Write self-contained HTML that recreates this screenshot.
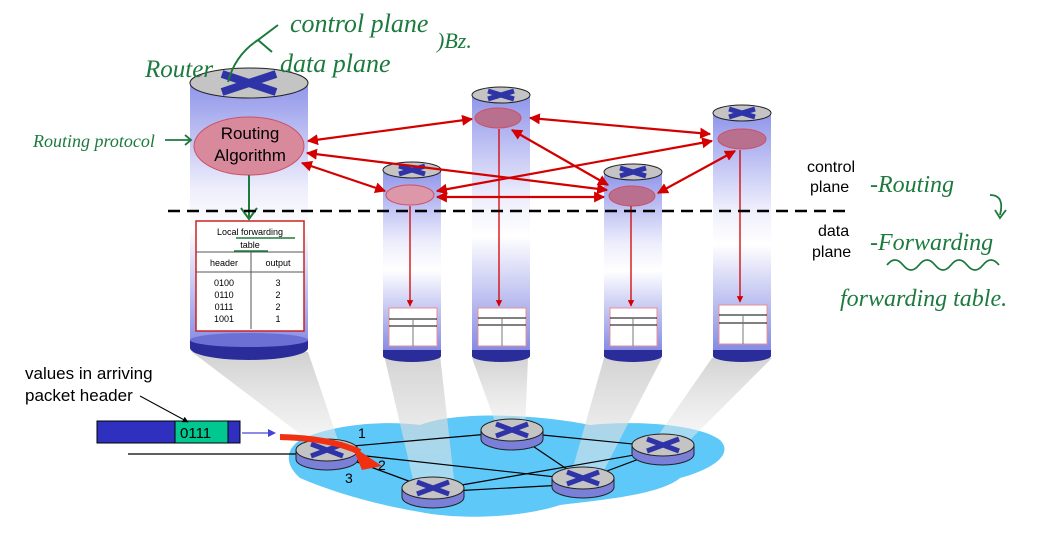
<!DOCTYPE html>
<html><head><meta charset="utf-8"><style>
html,body{margin:0;padding:0;background:#fff;}
svg{display:block;font-family:"Liberation Sans",sans-serif;}
.hw{font-family:"Liberation Serif",serif;font-style:italic;fill:#1d7a3e;}
</style></head><body>
<svg width="1041" height="536" viewBox="0 0 1041 536" xmlns="http://www.w3.org/2000/svg">
<defs>
<linearGradient id="cyl" x1="0" y1="0" x2="0" y2="1">
<stop offset="0" stop-color="#8f95ea"/><stop offset="0.4" stop-color="#eeeefc"/><stop offset="0.55" stop-color="#ffffff"/><stop offset="1" stop-color="#8489e4"/>
</linearGradient>
<linearGradient id="beam" x1="0" y1="0" x2="0" y2="1">
<stop offset="0" stop-color="#c8c8c8"/><stop offset="1" stop-color="#eeeeee" stop-opacity="0.6"/>
</linearGradient>
<marker id="ah" viewBox="0 0 10 10" refX="9" refY="5" markerWidth="5" markerHeight="5" orient="auto-start-reverse"><path d="M0,0 L10,5 L0,10 z" fill="#d40000"/></marker>
<marker id="ak" viewBox="0 0 10 10" refX="9" refY="5" markerWidth="6" markerHeight="6" orient="auto"><path d="M0,0 L10,5 L0,10 z" fill="#000"/></marker>
<g id="rt">
<path d="M-31,0 v9 a31,11 0 0 0 62,0 v-9 z" fill="#7a7fd8" stroke="#222" stroke-width="1"/>
<ellipse cx="0" cy="0" rx="31" ry="11" fill="#c4c4c4" stroke="#222" stroke-width="1"/>
<path d="M-16,-6 L16,6 M-16,6 L16,-6" stroke="#2f33a8" stroke-width="5"/>
</g>
</defs>

<path d="M300,440 C330,425 380,420 420,425 C460,410 540,415 590,425 C640,420 700,425 720,440 C735,455 710,470 680,478 C660,495 600,500 560,505 C520,518 460,520 420,512 C380,505 340,495 300,478 C285,465 285,450 300,440 z" fill="#5ec8f8"/>

<polygon points="192,352 308,352 340,446 316,446" fill="url(#beam)" opacity="0.85"/>
<polygon points="384,355 440,355 455,488 415,488" fill="url(#beam)" opacity="0.8"/>
<polygon points="472,358 528,358 525,430 498,430" fill="url(#beam)" opacity="0.8"/>
<polygon points="604,358 662,358 600,478 570,478" fill="url(#beam)" opacity="0.8"/>
<polygon points="712,358 772,358 690,440 655,440" fill="url(#beam)" opacity="0.8"/>

<g stroke="#000" stroke-width="1.2">
<line x1="330" y1="448" x2="512" y2="432"/>
<line x1="512" y1="432" x2="663" y2="447"/>
<line x1="512" y1="432" x2="583" y2="480"/>
<line x1="330" y1="452" x2="583" y2="480"/>
<line x1="330" y1="452" x2="433" y2="490"/>
<line x1="433" y1="490" x2="663" y2="450"/>
<line x1="433" y1="492" x2="583" y2="484"/>
<line x1="583" y1="480" x2="663" y2="450"/>
<line x1="128" y1="454" x2="300" y2="454"/>
</g>
<use href="#rt" x="327" y="450"/>
<use href="#rt" x="512" y="430"/>
<use href="#rt" x="433" y="488"/>
<use href="#rt" x="583" y="478"/>
<use href="#rt" x="663" y="445"/>
<path d="M280,437 Q330,438 360,452" stroke="#f03010" stroke-width="6" fill="none"/>
<polygon points="352,446 382,466 362,470" fill="#f03010"/>
<text x="358" y="438" font-size="14">1</text>
<text x="378" y="470" font-size="14">2</text>
<text x="345" y="483" font-size="14">3</text>

<rect x="97" y="421" width="143" height="22" fill="#3030c0" stroke="#000" stroke-width="1"/>
<rect x="175" y="421" width="53" height="22" fill="#00c890" stroke="#000" stroke-width="1"/>
<text x="180" y="438" font-size="15">0111</text>
<line x1="242" y1="433" x2="268" y2="433" stroke="#6666dd" stroke-width="1.5"/>
<polygon points="268,429 276,433 268,437" fill="#4444dd"/>
<text x="25" y="379" font-size="17">values in arriving</text>
<text x="25" y="401" font-size="17">packet header</text>
<line x1="140" y1="396" x2="188" y2="422" stroke="#000" stroke-width="1" marker-end="url(#ak)"/>

<rect x="190" y="83" width="118" height="265" fill="url(#cyl)"/>
<path d="M190,340 v8 a59,12 0 0 0 118,0 v-8 z" fill="#2a2c9a"/>
<ellipse cx="249" cy="340" rx="59" ry="7" fill="#6c70d4"/>
<ellipse cx="249" cy="83" rx="59" ry="15" fill="#c4c4c4" stroke="#222"/>
<path d="M222,74 L276,92 M222,92 L276,74" stroke="#2f33a8" stroke-width="8"/>
<ellipse cx="249" cy="146" rx="55" ry="29" fill="#d88a9c" stroke="#cc5066" stroke-width="1"/>
<text x="250" y="139" font-size="17" text-anchor="middle">Routing</text>
<text x="250" y="161" font-size="17" text-anchor="middle">Algorithm</text>
<line x1="249" y1="175" x2="249" y2="218" stroke="#1d7a3e" stroke-width="2"/>
<path d="M241,208 L249,219 L257,208" stroke="#1d7a3e" stroke-width="2" fill="none"/>
<rect x="196" y="221" width="108" height="110" fill="#fff" stroke="#cc2222" stroke-width="1.5"/>
<line x1="196" y1="252" x2="304" y2="252" stroke="#555"/>
<line x1="196" y1="272" x2="304" y2="272" stroke="#555"/>
<line x1="251" y1="252" x2="251" y2="329" stroke="#555"/>
<g font-size="9" text-anchor="middle">
<text x="250" y="235">Local forwarding</text>
<text x="250" y="248">table</text>
<text x="224" y="266">header</text><text x="278" y="266">output</text>
<text x="224" y="286">0100</text><text x="278" y="286">3</text>
<text x="224" y="298">0110</text><text x="278" y="298">2</text>
<text x="224" y="310">0111</text><text x="278" y="310">2</text>
<text x="224" y="322">1001</text><text x="278" y="322">1</text>
</g>
<path d="M236,238 L295,238 M234,251 L268,251" stroke="#1d7a3e" stroke-width="1.6"/>

<rect x="383" y="170" width="58" height="182" fill="url(#cyl)"/>
<path d="M383,350 v6 a29,6 0 0 0 58,0 v-6 z" fill="#2a2c9a"/>
<ellipse cx="412" cy="170" rx="29" ry="8" fill="#c4c4c4" stroke="#222"/>
<path d="M399,166 L425,174 M399,174 L425,166" stroke="#2f33a8" stroke-width="5"/>
<ellipse cx="410" cy="195" rx="24" ry="10" fill="#dc98a8" stroke="#cc5066"/>
<rect x="389" y="308" width="48" height="38" fill="#fff" stroke="#e89090"/>
<path d="M389,319 h48 M389,326 h48" stroke="#000"/><line x1="413" y1="319" x2="413" y2="346" stroke="#777"/>

<rect x="472" y="95" width="58" height="257" fill="url(#cyl)"/>
<path d="M472,350 v6 a29,6 0 0 0 58,0 v-6 z" fill="#2a2c9a"/>
<ellipse cx="501" cy="95" rx="29" ry="8" fill="#c4c4c4" stroke="#222"/>
<path d="M488,91 L514,99 M488,99 L514,91" stroke="#2f33a8" stroke-width="5"/>
<ellipse cx="498" cy="118" rx="23" ry="10" fill="#b8708e" stroke="#cc5066"/>
<rect x="478" y="308" width="48" height="38" fill="#fff" stroke="#e89090"/>
<path d="M478,318 h48 M478,325 h48" stroke="#000"/><line x1="502" y1="318" x2="502" y2="346" stroke="#777"/>

<rect x="604" y="172" width="58" height="180" fill="url(#cyl)"/>
<path d="M604,350 v6 a29,6 0 0 0 58,0 v-6 z" fill="#2a2c9a"/>
<ellipse cx="633" cy="172" rx="29" ry="8" fill="#c4c4c4" stroke="#222"/>
<path d="M620,168 L646,176 M620,176 L646,168" stroke="#2f33a8" stroke-width="5"/>
<ellipse cx="632" cy="196" rx="23" ry="10" fill="#b8708e" stroke="#cc5066"/>
<rect x="610" y="308" width="47" height="38" fill="#fff" stroke="#e89090"/>
<path d="M610,318 h47 M610,325 h47" stroke="#000"/><line x1="633" y1="318" x2="633" y2="346" stroke="#777"/>

<rect x="713" y="113" width="58" height="239" fill="url(#cyl)"/>
<path d="M713,350 v6 a29,6 0 0 0 58,0 v-6 z" fill="#2a2c9a"/>
<ellipse cx="742" cy="113" rx="29" ry="8" fill="#c4c4c4" stroke="#222"/>
<path d="M729,109 L755,117 M729,117 L755,109" stroke="#2f33a8" stroke-width="5"/>
<ellipse cx="742" cy="139" rx="24" ry="10" fill="#b8708e" stroke="#cc5066"/>
<rect x="719" y="305" width="48" height="39" fill="#fff" stroke="#e89090"/>
<path d="M719,315 h48 M719,323 h48" stroke="#000"/><line x1="743" y1="315" x2="743" y2="344" stroke="#777"/>

<g stroke="#d40000" stroke-width="1.3" marker-end="url(#ah)">
<line x1="410" y1="206" x2="410" y2="306"/>
<line x1="499" y1="129" x2="499" y2="306"/>
<line x1="631" y1="206" x2="631" y2="306"/>
<line x1="740" y1="150" x2="740" y2="302"/>
</g>

<line x1="168" y1="211" x2="850" y2="211" stroke="#000" stroke-width="2.5" stroke-dasharray="12,7"/>

<g stroke="#d40000" stroke-width="2.2" marker-start="url(#ah)" marker-end="url(#ah)">
<line x1="308" y1="141" x2="472" y2="119"/>
<line x1="307" y1="153" x2="607" y2="190"/>
<line x1="302" y1="163" x2="385" y2="191"/>
<line x1="530" y1="118" x2="710" y2="134"/>
<line x1="712" y1="141" x2="437" y2="191"/>
<line x1="512" y1="130" x2="608" y2="185"/>
<line x1="437" y1="197" x2="604" y2="197"/>
<line x1="658" y1="193" x2="735" y2="151"/>
</g>

<text x="807" y="172" font-size="16">control</text>
<text x="810" y="192" font-size="16">plane</text>
<text x="818" y="236" font-size="16">data</text>
<text x="812" y="257" font-size="16">plane</text>

<text class="hw" x="145" y="77" font-size="25">Router</text>
<path d="M228,82 Q235,55 258,40 L278,25 M258,40 L272,52" stroke="#1d7a3e" stroke-width="2" fill="none"/>
<text class="hw" x="290" y="32" font-size="26">control plane</text>
<text class="hw" x="280" y="72" font-size="26">data plane</text>
<text class="hw" x="437" y="48" font-size="22">)Bz.</text>
<text class="hw" x="33" y="147" font-size="18">Routing protocol</text>
<path d="M165,140 h25 M185,135 l6,5 -6,5" stroke="#1d7a3e" stroke-width="1.8" fill="none"/>
<text class="hw" x="870" y="192" font-size="24">-Routing</text>
<path d="M990,195 q15,0 10,20 M995,210 l5,8 6,-8" stroke="#1d7a3e" stroke-width="1.8" fill="none"/>
<text class="hw" x="870" y="250" font-size="24">-Forwarding</text>
<path d="M887,265 q8,-10 16,0 t16,0 t16,0 t16,0 t16,0 t16,0 t16,0" stroke="#1d7a3e" stroke-width="1.8" fill="none"/>
<text class="hw" x="840" y="306" font-size="24">forwarding table.</text>
</svg>
</body></html>
